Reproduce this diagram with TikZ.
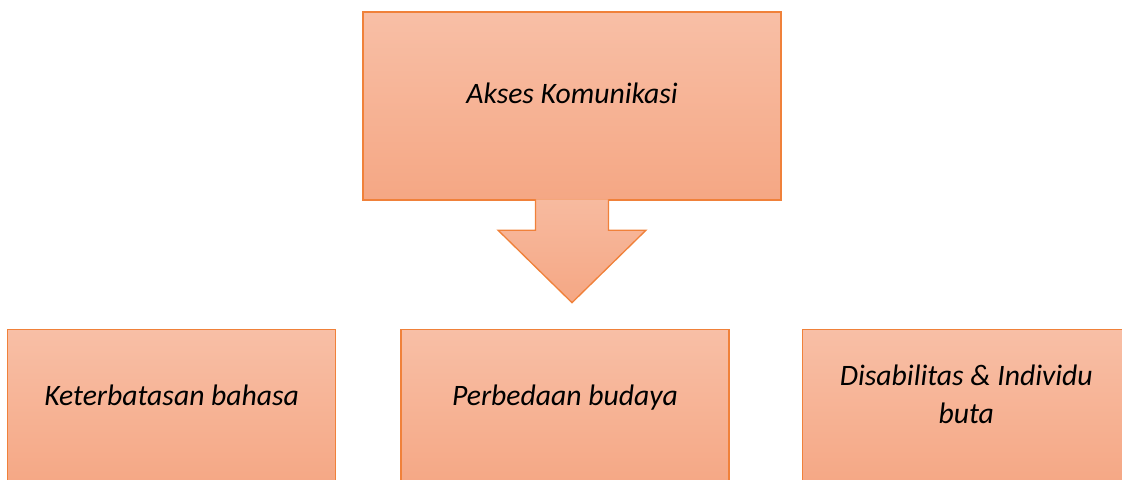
\documentclass[tikz,border=0pt]{standalone}
\usepackage{fontspec}
\setmainfont{Carlito}
\usepackage{tikz}
\usetikzlibrary{shapes,arrows,positioning}

\definecolor{boxtop}{HTML}{F8BFA6}
\definecolor{boxbottom}{HTML}{F5A784}
\definecolor{boxline}{HTML}{F0813A}

\begin{document}
\begin{tikzpicture}[
  node distance=96pt and 48pt,
  box/.style={
    rectangle,
    draw=boxline,
    line width=1pt,
    top color=boxtop,
    bottom color=boxbottom,
    text=black,
    minimum width=246pt,
    minimum height=118.5pt,
    inner sep=0pt,
    font=\fontsize{22.25}{28.5}\selectfont\itshape,
    text height=15pt,
    text depth=19.5pt,
    align=center
  },
  arrow/.style={
    draw=boxline,
    line width=1pt,
    line join=miter,
    top color=boxtop!80!boxbottom,
    bottom color=boxbottom
  }
]

\path[use as bounding box, clip] (0,0) rectangle (841.5pt,-359.25pt);

\node[box, minimum width=313.5pt, minimum height=141pt] (akses) at (429pt,-79.5pt) {Akses Komunikasi};
\node[box, below=of akses, xshift=-5.25pt] (budaya) {Perbedaan budaya};
\node[box, left=of budaya] (bahasa) {Keterbatasan bahasa};
\node[box, right=54pt of budaya, text height=30pt, text depth=7.5pt] (disabilitas) {Disabilitas \& Individu\\buta};

% block arrow
\draw[arrow] ([xshift=-27.375pt,yshift=1pt]akses.south) -- ++(0,-23.125pt) -- ++(-28.125pt,0)
  -- ++(55.5pt,-54.375pt) -- ++(55.5pt,54.375pt) -- ++(-28.125pt,0) -- ++(0,23.125pt);

\end{tikzpicture}
\end{document}
